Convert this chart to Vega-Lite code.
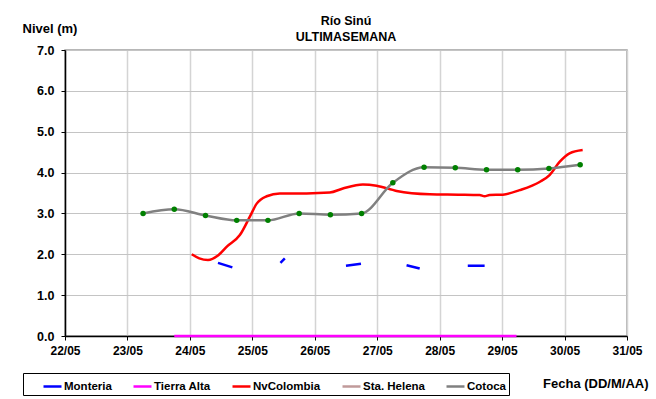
{
  "$schema": "https://vega.github.io/schema/vega-lite/v6.json",
  "width": 562,
  "height": 286,
  "autosize": {"type": "none"},
  "padding": {"left": 65, "top": 50, "right": 29, "bottom": 63},
  "background": "white",
  "config": {
    "font": "Liberation Sans",
    "view": {"stroke": "#A0A0A0", "strokeWidth": 1.5}
  },
  "title": {
    "text": ["Río Sinú", "ULTIMASEMANA"],
    "fontSize": 12.5,
    "fontWeight": "bold",
    "font": "Liberation Sans",
    "color": "black",
    "anchor": "middle",
    "lineHeight": 16,
    "offset": -21
  },
  "data": {
    "values": [
      {"s": "Tierra Alta", "g": "t", "d": 23.75, "v": 0},
      {"s": "Tierra Alta", "g": "t", "d": 29.23, "v": 0},
      {"s": "Monteria", "g": "m1", "d": 24.45, "v": 1.79},
      {"s": "Monteria", "g": "m1", "d": 24.68, "v": 1.68},
      {"s": "Monteria", "g": "m2", "d": 25.45, "v": 1.79},
      {"s": "Monteria", "g": "m2", "d": 25.52, "v": 1.9},
      {"s": "Monteria", "g": "m3", "d": 26.5, "v": 1.72},
      {"s": "Monteria", "g": "m3", "d": 26.74, "v": 1.77},
      {"s": "Monteria", "g": "m4", "d": 27.47, "v": 1.73},
      {"s": "Monteria", "g": "m4", "d": 27.68, "v": 1.65},
      {"s": "Monteria", "g": "m5", "d": 28.45, "v": 1.72},
      {"s": "Monteria", "g": "m5", "d": 28.72, "v": 1.72},
      {"s": "NvColombia", "g": "n", "d": 24.03, "v": 2.0},
      {"s": "NvColombia", "g": "n", "d": 24.15, "v": 1.9},
      {"s": "NvColombia", "g": "n", "d": 24.29, "v": 1.86},
      {"s": "NvColombia", "g": "n", "d": 24.45, "v": 1.97},
      {"s": "NvColombia", "g": "n", "d": 24.6, "v": 2.2},
      {"s": "NvColombia", "g": "n", "d": 24.8, "v": 2.47},
      {"s": "NvColombia", "g": "n", "d": 24.96, "v": 2.92},
      {"s": "NvColombia", "g": "n", "d": 25.07, "v": 3.24},
      {"s": "NvColombia", "g": "n", "d": 25.23, "v": 3.42},
      {"s": "NvColombia", "g": "n", "d": 25.44, "v": 3.49},
      {"s": "NvColombia", "g": "n", "d": 25.87, "v": 3.49},
      {"s": "NvColombia", "g": "n", "d": 26.24, "v": 3.51},
      {"s": "NvColombia", "g": "n", "d": 26.45, "v": 3.61},
      {"s": "NvColombia", "g": "n", "d": 26.77, "v": 3.71},
      {"s": "NvColombia", "g": "n", "d": 26.99, "v": 3.68},
      {"s": "NvColombia", "g": "n", "d": 27.31, "v": 3.55},
      {"s": "NvColombia", "g": "n", "d": 27.84, "v": 3.47},
      {"s": "NvColombia", "g": "n", "d": 28.3, "v": 3.46},
      {"s": "NvColombia", "g": "n", "d": 28.64, "v": 3.45},
      {"s": "NvColombia", "g": "n", "d": 28.72, "v": 3.42},
      {"s": "NvColombia", "g": "n", "d": 28.8, "v": 3.45},
      {"s": "NvColombia", "g": "n", "d": 29.01, "v": 3.46},
      {"s": "NvColombia", "g": "n", "d": 29.28, "v": 3.57},
      {"s": "NvColombia", "g": "n", "d": 29.6, "v": 3.77},
      {"s": "NvColombia", "g": "n", "d": 29.76, "v": 3.94},
      {"s": "NvColombia", "g": "n", "d": 29.92, "v": 4.26},
      {"s": "NvColombia", "g": "n", "d": 30.08, "v": 4.47},
      {"s": "NvColombia", "g": "n", "d": 30.29, "v": 4.55},
      {"s": "Cotoca", "g": "c", "d": 23.25, "v": 3.0},
      {"s": "Cotoca", "g": "c", "d": 23.75, "v": 3.1},
      {"s": "Cotoca", "g": "c", "d": 24.25, "v": 2.95},
      {"s": "Cotoca", "g": "c", "d": 24.75, "v": 2.83},
      {"s": "Cotoca", "g": "c", "d": 25.25, "v": 2.83},
      {"s": "Cotoca", "g": "c", "d": 25.75, "v": 3.0},
      {"s": "Cotoca", "g": "c", "d": 26.25, "v": 2.97},
      {"s": "Cotoca", "g": "c", "d": 26.75, "v": 3.0},
      {"s": "Cotoca", "g": "c", "d": 27.25, "v": 3.75},
      {"s": "Cotoca", "g": "c", "d": 27.75, "v": 4.13},
      {"s": "Cotoca", "g": "c", "d": 28.25, "v": 4.12},
      {"s": "Cotoca", "g": "c", "d": 28.75, "v": 4.07},
      {"s": "Cotoca", "g": "c", "d": 29.25, "v": 4.07},
      {"s": "Cotoca", "g": "c", "d": 29.75, "v": 4.1},
      {"s": "Cotoca", "g": "c", "d": 30.25, "v": 4.19}
    ]
  },
  "layer": [
    {
      "mark": {"type": "line", "interpolate": "monotone", "strokeWidth": 2.5},
      "encoding": {
        "x": {
          "field": "d",
          "type": "quantitative",
          "scale": {"domain": [22, 31], "nice": false, "zero": false},
          "axis": {
            "values": [22, 23, 24, 25, 26, 27, 28, 29, 30, 31],
            "labelExpr": "datum.value + '/05'",
            "labelFont": "Liberation Sans",
            "labelFontSize": 12,
            "labelFontWeight": "bold",
            "labelColor": "black",
            "labelPadding": 5,
            "labelFlush": false,
            "tickSize": 4,
            "tickColor": "black",
            "domainColor": "black",
            "domainWidth": 1.5,
            "gridColor": "#D4D4D4",
            "gridWidth": 1.5,
            "title": "Fecha (DD/M/AA)",
            "titleFont": "Liberation Sans",
            "titleFontSize": 13,
            "titleFontWeight": "bold",
            "titleColor": "black",
            "titleAlign": "right",
            "titleBaseline": "middle",
            "titleX": 583,
            "titleY": 47
          }
        },
        "y": {
          "field": "v",
          "type": "quantitative",
          "scale": {"domain": [0, 7], "nice": false},
          "axis": {
            "values": [0, 0.5, 1, 1.5, 2, 2.5, 3, 3.5, 4, 4.5, 5, 5.5, 6, 6.5, 7],
            "labelExpr": "datum.value % 1 === 0 ? format(datum.value, '.1f') : ''",
            "labelFont": "Liberation Sans",
            "labelFontSize": 12.5,
            "labelFontWeight": "bold",
            "labelColor": "black",
            "labelPadding": 7,
            "tickSize": 4,
            "tickColor": "black",
            "tickOpacity": {"expr": "datum.value % 1 === 0 ? 1 : 0"},
            "domainColor": "black",
            "domainWidth": 1.5,
            "gridColor": "#C4C4C4",
            "gridWidth": 1,
            "title": "Nivel (m)",
            "titleFont": "Liberation Sans",
            "titleFontSize": 13,
            "titleFontWeight": "bold",
            "titleColor": "black",
            "titleAngle": 0,
            "titleAlign": "left",
            "titleBaseline": "middle",
            "titleX": -43,
            "titleY": -22
          }
        },
        "color": {
          "field": "s",
          "type": "nominal",
          "scale": {
            "domain": ["Monteria", "Tierra Alta", "NvColombia", "Sta. Helena", "Cotoca"],
            "range": ["#0000FF", "#FF00FF", "#FF0000", "#C09A9A", "#808080"]
          },
          "legend": {
            "orient": "none",
            "legendX": -42,
            "legendY": 323,
            "direction": "horizontal",
            "columns": 5,
            "symbolType": "stroke",
            "symbolSize": 324,
            "symbolStrokeWidth": 2.5,
            "labelFont": "Liberation Sans",
            "labelFontSize": 11.5,
            "labelFontWeight": "bold",
            "labelColor": "black",
            "labelOffset": 1,
            "columnPadding": 16,
            "padding": 3,
            "strokeColor": "black",
            "fillColor": "white",
            "title": " ",
            "titleOrient": "left",
            "titleFontSize": 11,
            "titlePadding": 16
          }
        },
        "detail": {"field": "g", "type": "nominal"}
      }
    },
    {
      "transform": [{"filter": "datum.s === 'Cotoca'"}],
      "mark": {"type": "circle", "size": 30, "color": "#008000", "opacity": 1},
      "encoding": {
        "x": {"field": "d", "type": "quantitative"},
        "y": {"field": "v", "type": "quantitative"}
      }
    }
  ]
}
